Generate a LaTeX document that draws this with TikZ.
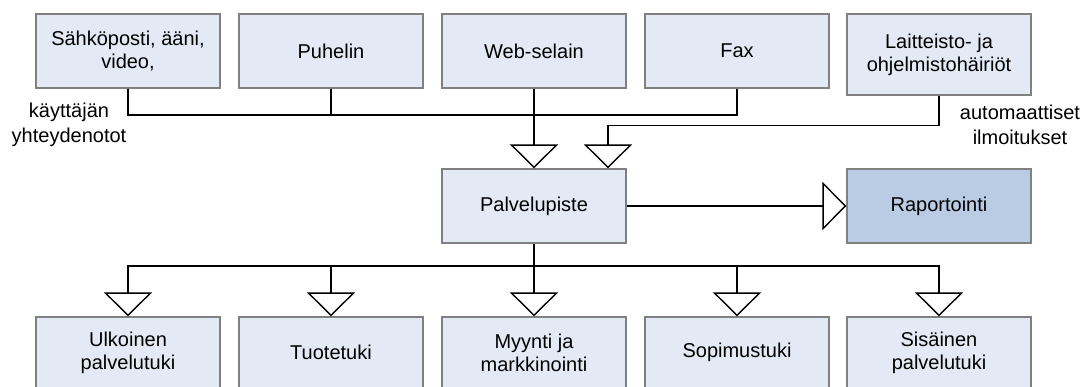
\documentclass[tikz,border=0pt]{standalone}
\usepackage{fontspec}
\setmainfont{Liberation Sans}
\usetikzlibrary{arrows.meta,calc}
\definecolor{boxfill}{HTML}{E4EAF5}
\definecolor{boxdark}{HTML}{B9CCE4}
\definecolor{boxedge}{HTML}{808080}
\tikzset{
  box/.style={draw=boxedge, fill=boxfill, line width=1.2pt, minimum width=184pt,
    minimum height=74pt, inner sep=0pt, align=center,
    font=\fontsize{20}{23}\selectfont},
  darkbox/.style={box, fill=boxdark},
  link/.style={draw=black, line width=1.4pt},
  tri/.style={link, -{Triangle[open, width=48pt, length=24pt, line width=1.4pt, fill=white]}},
  note/.style={align=center, inner sep=0pt, font=\fontsize{20}{24.5}\selectfont}
}
\begin{document}
\begin{tikzpicture}[x=1pt, y=-1pt]
\useasboundingbox (0,0) rectangle (1084,387);
% incoming channels
\node[box] (mail) at (128,51) {Sähköposti, ääni,\\video,};
\node[box] (phone) at (331,51) {Puhelin};
\node[box] (web) at (534,51) {Web-selain};
\node[box] (fax) at (737,51) {Fax};
\node[box, minimum height=81pt] (fault) at (939,54.5) {Laitteisto- ja\\ohjelmistohäiriöt};
% central service point and reporting
\node[box] (desk) at (534,206) {Palvelupiste};
\node[darkbox] (report) at (939,206) {Raportointi};
% support units
\node[box, minimum height=71pt] (ext) at (128,352.5) {Ulkoinen\\palvelutuki};
\node[box, minimum height=71pt] (prod) at (331,352.5) {Tuotetuki};
\node[box, minimum height=71pt] (sales) at (534,352.5) {Myynti ja\\markkinointi};
\node[box, minimum height=71pt] (contract) at (737,352.5) {Sopimustuki};
\node[box, minimum height=71pt] (internal) at (939,352.5) {Sisäinen\\palvelutuki};
% side notes
\node[note] (user) at (69,125) {käyttäjän\\yhteydenotot};
\node[note] (autonote) at (1020,125) {automaattiset\\ilmoitukset};
% junction points
\coordinate (inhub) at (534,115);
\coordinate (outhub) at (534,266);
\coordinate (autoin) at ([xshift=74pt]desk.north);
\coordinate (autobend) at ([yshift=43pt]autoin);
% user contacts merge into the service point
\draw[link] (mail.south) |- (inhub);
\draw[link] (phone.south) |- (inhub);
\draw[link] (fax.south) |- (inhub);
\draw[tri] (web.south) -- (desk.north);
% automatic notifications
\draw[tri] (fault.south) |- (autobend) -- (autoin);
% reporting
\draw[tri] (desk.east) -- (report.west);
% distribution to support units
\draw[link] (desk.south) -- (outhub);
\draw[tri] (outhub) -| (ext.north);
\draw[tri] (outhub) -| (prod.north);
\draw[tri] (outhub) -- (sales.north);
\draw[tri] (outhub) -| (contract.north);
\draw[tri] (outhub) -| (internal.north);
\end{tikzpicture}
\end{document}
